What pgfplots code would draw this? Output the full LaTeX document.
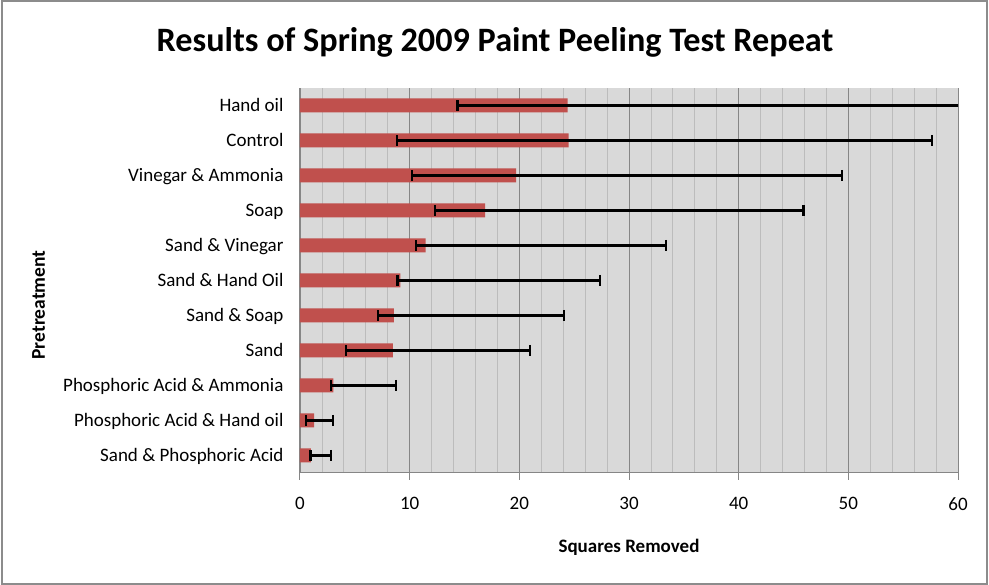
\documentclass[border=0pt]{standalone}
\usepackage{pgfplots}
\usepackage{pgfplotstable}
\pgfplotsset{compat=1.18}
\usepackage{fontspec}
\setmainfont{Carlito}
\definecolor{barred}{HTML}{C0504D}
\definecolor{plotbg}{HTML}{D9D9D9}
\definecolor{majgrid}{HTML}{868686}
\definecolor{mingrid}{HTML}{BCBCBC}
\definecolor{framegray}{HTML}{8C8C8C}

\pgfplotstableread{
y  x      em     ep
0  1.00   0.05   1.80
1  1.28   0.76   1.70
2  3.04   0.21   5.71
3  8.48   4.28   12.52
4  8.57   1.47   15.53
5  9.15   0.25   18.20
6  11.46  0.86   21.94
7  16.87  4.57   29.03
8  19.70  9.50   29.70
9  24.50  15.63  33.10
10 24.40  10.05  45.60
}\datatable

\begin{document}
\begin{tikzpicture}[x=1pt,y=1pt]
\useasboundingbox (0,0) rectangle (989,585);
\draw[framegray, line width=2pt] (2,1) rectangle (987,584);
\begin{axis}[
  at={(300pt,112pt)}, anchor=south west,
  width=658pt, height=385pt, scale only axis,
  xmin=0, xmax=60, ymin=-0.5, ymax=10.5,
  axis background/.style={fill=plotbg},
  xbar, bar width=14pt,
  axis x line*=bottom, axis y line*=left,
  axis line style={majgrid, line width=1pt},
  xtick={0,10,20,30,40,50,60},
  minor x tick num=4,
  xmajorgrids, xminorgrids,
  major grid style={majgrid, line width=0.8pt},
  minor grid style={mingrid, line width=0.8pt},
  tick align=outside,
  major tick length=7pt, minor tick length=0pt,
  x tick style={majgrid, line width=1pt},
  y tick style={draw=none},
  ytick={0,...,10},
  yticklabels={Sand \& Phosphoric Acid, Phosphoric Acid \& Hand oil, Phosphoric Acid \& Ammonia, Sand, Sand \& Soap, Sand \& Hand Oil, Sand \& Vinegar, Soap, Vinegar \& Ammonia, Control, Hand oil},
  /pgf/number format/assume math mode=true,
  tick label style={font=\fontsize{19}{22}\selectfont},
  xticklabel style={yshift=-14pt},
  yticklabel style={anchor=base east, yshift=-6pt, xshift=-6pt},
  clip=true,
]
\addplot[fill=barred, draw=none,
  error bars/.cd, x dir=both, x explicit,
  error bar style={draw=black, line width=2.3pt},
  error mark options={draw=black, line width=2.3pt, mark size=5.5pt, rotate=90}]
  table[x=x, y=y, x error minus=em, x error plus=ep]{\datatable};
\end{axis}
\node[font=\fontsize{34.2}{40}\selectfont\bfseries, anchor=base] at (495,533) {Results of Spring 2009 Paint Peeling Test Repeat};
\node[font=\fontsize{19}{22}\selectfont\bfseries, anchor=base] at (629,32) {Squares Removed};
\node[font=\fontsize{19.5}{22}\selectfont\bfseries, anchor=base, rotate=90] at (45,280) {Pretreatment};
\end{tikzpicture}
\end{document}
